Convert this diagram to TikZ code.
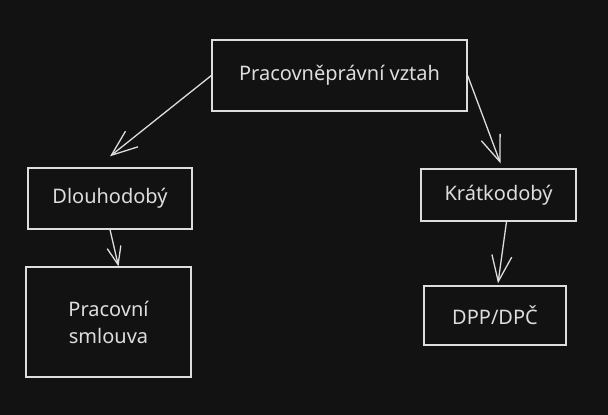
\documentclass[tikz,border=0pt]{standalone}
\usepackage{fontspec}
\setmainfont{Noto Sans}
\usetikzlibrary{arrows.meta}
\definecolor{bg}{HTML}{121212}
\definecolor{ink}{HTML}{DDDDDD}

\begin{document}
\begin{tikzpicture}[x=1pt,y=-1pt,>={Straight Barb[length=26pt,width=20pt]},line width=1.3pt,
  main node/.style={draw=ink,text=ink,fill=bg,inner sep=0pt,font=\fontsize{20}{27}\selectfont,
    postaction={draw=ink,opacity=.45,line width=.8pt,transform canvas={shift={(.8pt,-.8pt)}}}}]
  \useasboundingbox[fill=bg] (0,0) rectangle (608,415);

  \node[main node,minimum width=255pt,minimum height=71pt] (1) at (339.5,75.5) {Pracovněprávní vztah};
  \node[main node,minimum width=164pt,minimum height=61pt] (2) at (110,198.5) {Dlouhodobý};
  \node[main node,minimum width=165pt,minimum height=110pt,align=center] (3) at (108.5,322) {Pracovní\\smlouva};
  \node[main node,minimum width=155pt,minimum height=52pt] (4) at (498.5,195) {Krátkodobý};
  \node[main node,minimum width=142pt,minimum height=59pt] (5) at (495,315.5) {DPP/DPČ};
  \path[color=ink,->]
  (1.west) edge ([yshift=11pt]2.north)
  (1.east) edge ([xshift=2pt,yshift=5pt]4.north)
  (2.south) edge [>={Straight Barb[length=18pt,width=14pt]}] ([xshift=10pt]3.north)
  ([xshift=8pt]4.south) edge ([xshift=3pt,yshift=2pt]5.north)
  ;

\end{tikzpicture}
\end{document}
